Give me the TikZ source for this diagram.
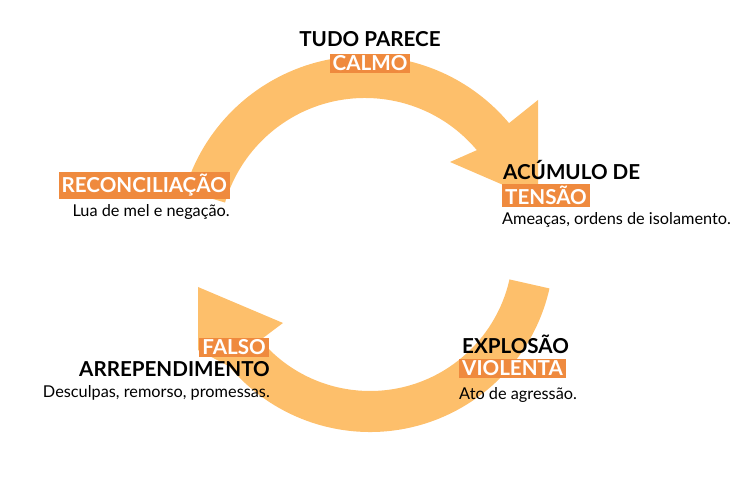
\documentclass[tikz,border=0pt]{standalone}
\usepackage{fontspec}
\setmainfont{Lato}
\usetikzlibrary{positioning}
\definecolor{bandorange}{HTML}{FDBF6B}
\definecolor{tagorange}{HTML}{EF8A3E}
\tikzset{%
  % Specifications for style of texts and bands:
      band/.style = {fill=bandorange, draw=none},
     title/.style = {font=\bfseries\fontsize{20.6}{20.6}\selectfont, inner sep=0pt},
       tag/.style = {fill=tagorange, text=white, font=\bfseries\fontsize{20.6}{20.6}\selectfont,
                     inner xsep=3pt, inner ysep=2pt},
      note/.style = {font=\fontsize{16.3}{16.3}\selectfont, inner sep=0pt},
}

\begin{document}
\begin{tikzpicture}[x=1pt, y=1pt]
  \useasboundingbox (0,0) rectangle (732,486);
  \coordinate (topc) at (365,242);
  \coordinate (botc) at (370,238);

  % Specification of the two arrow bands
  \fill[band] (topc) ++(163.5:188) arc[start angle=163.5, end angle=40, radius=188]
     -- (538,386) -- (538,286) -- (450,324)
     -- ([shift={(40:146)}]topc) arc[start angle=40, end angle=163.5, radius=146] -- cycle;
  \fill[band] (botc) ++(-12.7:184) arc[start angle=-12.7, end angle=-140, radius=184]
     -- (198,136) -- (198,199) -- (283,163)
     -- ([shift={(-140:143)}]botc) arc[start angle=-140, end angle=-12.7, radius=143] -- cycle;

  % Specification of nodes (position, etc.)
  \node (calmhead)  [title, anchor=base]      at (370,439) {TUDO PARECE};
  \node (calm)      [tag, anchor=base]        at (370,415) {CALMO};

  \node (tensehead) [title, anchor=base west] at (503,306) {ACÚMULO DE};
  \node (tense)     [tag, anchor=base west]   at (502,281) {TENSÃO};
  \node (tensenote) [note, below=5pt of tense.south west, anchor=north west]
        {Ameaças, ordens de isolamento.};

  \node (blowhead)  [title, anchor=base west] at (462,132) {EXPLOSÃO};
  \node (blow)      [tag, anchor=base west]   at (459,110) {VIOLENTA};
  \node (blownote)  [note, below=9pt of blow.south west, anchor=north west]
        {Ato de agressão.};

  \node (regret)    [tag, anchor=base east]   at (269,131) {FALSO};
  \node (regrethead)[title, anchor=base east] at (270,109) {ARREPENDIMENTO};
  \node (regretnote)[note, below=8pt of regrethead.south east, anchor=north east]
        {Desculpas, remorso, promessas.};

  \node (reconcile) [tag, anchor=base east]   at (230,293) {RECONCILIAÇÃO};
  \node (reconnote) [note, below=5pt of reconcile.south east, anchor=north east]
        {Lua de mel e negação.};
\end{tikzpicture}
\end{document}
